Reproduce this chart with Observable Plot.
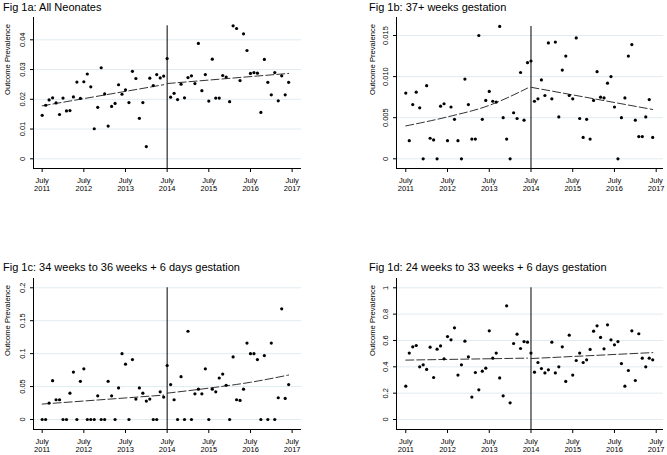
<!DOCTYPE html>
<html><head><meta charset="utf-8">
<script src="https://cdn.jsdelivr.net/npm/d3@7"></script>
<script src="https://cdn.jsdelivr.net/npm/@observablehq/plot@0.6"></script>
<style>
body{margin:0;background:#fff;}
#wrap{position:relative;width:667px;height:455px;font-family:"Liberation Sans",Arial,sans-serif;overflow:hidden;}
.title{position:absolute;font-size:11px;line-height:11px;color:#000;white-space:nowrap;}
.panel{position:absolute;}
</style></head><body><div id="wrap"></div>
<script>
// month index 0 = July 2011 ... 71 = June 2017
const yearTicks = [0, 12, 24, 36, 48, 60, 72];
const yearTickLabels = ["July\n2011", "July\n2012", "July\n2013", "July\n2014", "July\n2015", "July\n2016", "July\n2017"];
const interruption = 36; // July 2014
const yAxisTitle = "Outcome Prevalence";

const titles = ["Fig 1a: All Neonates", "Fig 1b: 37+ weeks gestation", "Fig 1c: 34 weeks to 36 weeks + 6 days gestation", "Fig 1d: 24 weeks to 33 weeks + 6 days gestation"];

const allNeonates = [0.0146,0.0180,0.0198,0.0205,0.0188,0.0149,0.0204,0.0161,0.0162,0.0208,0.0258,0.0203,
0.0259,0.0285,0.0242,0.0101,0.0173,0.0306,0.0218,0.0110,0.0176,0.0186,0.0249,0.0217,
0.0232,0.0189,0.0294,0.0270,0.0136,0.0189,0.0041,0.0271,0.0246,0.0283,0.0272,0.0278,
0.0337,0.0207,0.0220,0.0199,0.0251,0.0205,0.0273,0.0279,0.0253,0.0388,0.0229,0.0283,
0.0194,0.0335,0.0204,0.0204,0.0280,0.0275,0.0192,0.0447,0.0438,0.0263,0.0420,0.0364,
0.0287,0.0290,0.0288,0.0156,0.0334,0.0257,0.0215,0.0290,0.0195,0.0279,0.0215,0.0257];

const weeks37plus = [0.0080,0.0022,0.0066,0.0081,0.0062,0,0.0089,0.0025,0.0023,0,0.0064,0.0067,
0.0022,0.0063,0.0048,0.0022,0,0.0097,0.0066,0.0024,0.0024,0.0150,0.0048,0.0071,
0.0082,0.0070,0.0069,0.0161,0.0050,0.0024,0,0.0056,0.0049,0.0105,0.0047,0.0117,
0.0119,0.0070,0.0073,0.0096,0.0077,0.0141,0.0073,0.0142,0.0051,0.0108,0.0125,0.0077,
0.0073,0.0147,0.0049,0.0026,0.0048,0.0024,0.0071,0.0106,0.0075,0.0074,0.0092,0.0100,
0.0063,0,0.0050,0.0074,0.0125,0.0139,0.0047,0.0027,0.0027,0.0051,0.0072,0.0026];

const weeks34to36 = [0,0,0.025,0.059,0.030,0.030,0,0,0.040,0.072,0,0.058,
0.077,0,0,0,0.036,0,0,0.058,0.036,0,0.048,0.100,
0.084,0,0.091,0.031,0.048,0.040,0.028,0.031,0,0,0.042,0.034,
0.082,0.053,0.030,0,0.065,0,0.134,0,0.039,0.046,0.039,0.077,
0,0.046,0.042,0.063,0.069,0.052,0,0.095,0.030,0.029,0.046,0.116,
0.100,0.100,0.091,0,0.097,0,0.116,0,0.033,0.168,0.032,0.053];

const weeks24to33 = [0.253,0.504,0.552,0.562,0.400,0.415,0.380,0.549,0.319,0.534,0.559,0.461,
0.630,0.605,0.696,0.337,0.415,0.595,0.476,0.170,0.357,0.225,0.367,0.390,
0.673,0.466,0.504,0.316,0.180,0.863,0.127,0.577,0.648,0.539,0.592,0.587,
0.504,0.359,0.433,0.387,0.354,0.377,0.587,0.354,0.400,0.552,0.289,0.640,
0.337,0.448,0.504,0.433,0.453,0.532,0.671,0.711,0.623,0.537,0.719,0.605,
0.567,0.592,0.425,0.253,0.372,0.673,0.296,0.651,0.466,0.400,0.466,0.453];

// fitted segmented trends: [month, value]
const trendA = {pre: [[0,0.0178],[35,0.0249]], post: [[36,0.0253],[71,0.0287]]};
const trendB = {pre: [[0,0.0040],[12,0.0051],[24,0.0065],[35,0.0086]], post: [[36,0.0087],[71,0.0060]]};
const trendC = {pre: [[0,0.0234],[35,0.0370]], post: [[36,0.0400],[48,0.0476],[60,0.0565],[71,0.0675]]};
const trendD = {pre: [[0,0.451],[35,0.466]], post: [[36,0.463],[71,0.508]]};

const ticksA = [0, 0.01, 0.02, 0.03, 0.04], labelsA = ["0","0.01","0.02","0.03","0.04"];
const ticksB = [0, 0.005, 0.010, 0.015], labelsB = ["0","0.005","0.010","0.015"];
const ticksC = [0, 0.05, 0.1, 0.15, 0.2], labelsC = ["0","0.05","0.1","0.15","0.2"];
const ticksD = [0, 0.2, 0.4, 0.6, 0.8, 1], labelsD = ["0","0.2","0.4","0.6","0.8","1"];

const FONT = '"Liberation Sans", Arial, sans-serif';
const wrap = document.getElementById("wrap");

function panel(o) {
  const data = o.values.map((v, i) => ({m: i, v}));
  const vTop = Math.max(d3.max(o.values), d3.max(o.ticks));
  const yDomain = o.yDomain;
  const dash = "8,3";
  const svg = Plot.plot({
    width: o.width, height: o.height,
    marginLeft: o.ml, marginRight: o.mr, marginTop: o.mt, marginBottom: o.mb,
    style: {fontFamily: FONT, fontSize: "7.5px", color: "#000", background: "transparent", overflow: "visible"},
    x: {domain: o.xDomain, label: null},
    y: {domain: yDomain, label: null},
    marks: [
      Plot.ruleY(o.ticks, {stroke: "#e0ecf0", strokeWidth: 1}),
      Plot.ruleX([o.xDomain[0]], {stroke: "#000", strokeWidth: 1}),
      Plot.ruleY([yDomain[0]], {stroke: "#000", strokeWidth: 1}),
      Plot.axisX(yearTicks, {tickSize: 4, tickPadding: 5, tickFormat: d => yearTickLabels[yearTicks.indexOf(d)], label: null, lineHeight: 1.05}),
      Plot.axisY(o.ticks, {tickSize: 3, tickRotate: -90, tickFormat: d => o.labels[o.ticks.indexOf(d)], label: null}),
      Plot.ruleX([interruption], {y1: yDomain[0], y2: vTop, stroke: "#000", strokeWidth: 1}),
      Plot.line(o.trend.pre, {x: d => d[0], y: d => d[1], stroke: "#333", strokeWidth: 1, strokeDasharray: dash, curve: "monotone-x"}),
      Plot.line(o.trend.post, {x: d => d[0], y: d => d[1], stroke: "#333", strokeWidth: 1, strokeDasharray: dash, curve: "monotone-x"}),
      Plot.dot(data, {x: "m", y: "v", r: 1.6, fill: "#000", stroke: null}),
      Plot.text([yAxisTitle], {text: d => d, frameAnchor: "left", rotate: -90, dx: o.titleDx, dy: 2, fontSize: 7.6, fill: "#000"})
    ]
  });
  const div = document.createElement("div");
  div.className = "panel";
  div.style.left = o.left + "px";
  div.style.top = o.top + "px";
  div.appendChild(svg);
  wrap.appendChild(div);
  const t = document.createElement("div");
  t.className = "title";
  t.textContent = o.title;
  t.style.left = o.tx + "px";
  t.style.top = o.ty + "px";
  wrap.appendChild(t);
}

panel({values: allNeonates, trend: trendA, ticks: ticksA, labels: labelsA, title: titles[0],
  left: 0, top: 0, width: 333, height: 205, ml: 33, mr: 32, mt: 17, mb: 37,
  xDomain: [-2.5, 74.7], yDomain: [-0.00326, 0.0475], titleDx: -26, tx: 3, ty: 2});
panel({values: weeks37plus, trend: trendB, ticks: ticksB, labels: labelsB, title: titles[1],
  left: 333, top: 0, width: 334, height: 205, ml: 63, mr: 4, mt: 17, mb: 37,
  xDomain: [-2.67, 74.1], yDomain: [-0.00118, 0.01719], titleDx: -24, tx: 369, ty: 2});
panel({values: weeks34to36, trend: trendC, ticks: ticksC, labels: labelsC, title: titles[2],
  left: 0, top: 230, width: 333, height: 225, ml: 33, mr: 32, mt: 48, mb: 26,
  xDomain: [-2.5, 74.7], yDomain: [-0.0152, 0.2141], titleDx: -26, tx: 3, ty: 262});
panel({values: weeks24to33, trend: trendD, ticks: ticksD, labels: labelsD, title: titles[3],
  left: 333, top: 230, width: 334, height: 225, ml: 63, mr: 4, mt: 48, mb: 26,
  xDomain: [-2.67, 74.1], yDomain: [-0.0759, 1.0706], titleDx: -24, tx: 369, ty: 262});
</script>
</body></html>
